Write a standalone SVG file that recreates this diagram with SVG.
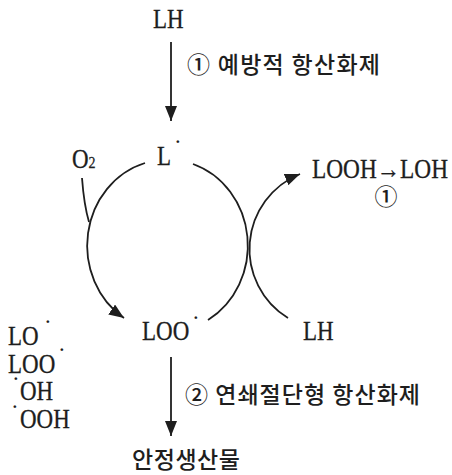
<svg xmlns="http://www.w3.org/2000/svg" width="452" height="475" viewBox="0 0 452 475">
<defs>
<style>
.lat{font-family:"Liberation Serif","Times New Roman",serif;font-size:23px;fill:#1e1e1e;stroke:#1e1e1e;stroke-width:0.25}
.dot{font-family:"Liberation Serif","Times New Roman",serif;font-size:23px;fill:#1e1e1e}
.kr{font-family:"Noto Sans CJK KR","Noto Sans",sans-serif;font-size:23px;font-weight:500;fill:#1e1e1e}
.ln{fill:none;stroke:#1e1e1e;stroke-width:1.8}
</style>
<marker id="ah" markerWidth="16" markerHeight="12" refX="15" refY="6" orient="auto" markerUnits="userSpaceOnUse">
<path d="M0,0 L15,6 L0,12 z" fill="#1e1e1e"/>
</marker>
</defs>
<rect width="452" height="475" fill="#ffffff"/>

<g id="connectors">
<line class="ln" x1="171" y1="42" x2="171" y2="121" marker-end="url(#ah)"/>
<path class="ln" d="M145,163 A80,86 0 0 0 124,318" marker-end="url(#ah)"/>
<path class="ln" d="M193,164 A80,86 0 0 1 208,320"/>
<path class="ln" d="M82,178 Q84,205 89,222"/>
<path class="ln" d="M288,318 A81,81 0 0 1 300,174" marker-end="url(#ah)"/>
<line class="ln" x1="171" y1="357" x2="171" y2="436" marker-end="url(#ah)"/>
</g>

<g id="n-LH-top"><text class="lat" transform="translate(153,28) scale(1,1.15)">LH</text></g>
<g id="n-label1"><text class="kr" x="187" y="73" textLength="193" lengthAdjust="spacing">① 예방적 항산화제</text></g>
<g id="n-O2"><text class="lat" transform="translate(72,168) scale(1,1.15)">O<tspan font-size="14">2</tspan></text></g>
<g id="n-L">
<text class="lat" transform="translate(157,165) scale(1,1.15)">L</text>
<text class="dot" x="174" y="149">·</text>
</g>
<g id="n-LOOH"><text class="lat" transform="translate(312,178) scale(1,1.15)" textLength="136" lengthAdjust="spacingAndGlyphs">LOOH→LOH</text></g>
<g id="n-circ1"><text class="kr" x="386" y="205" text-anchor="middle" font-size="20">①</text></g>
<g id="n-LOO">
<text class="lat" transform="translate(142,340) scale(1,1.15)">LOO</text>
<text class="dot" x="192" y="325">·</text>
</g>
<g id="n-LH-bottom"><text class="lat" transform="translate(303,340) scale(1,1.15)">LH</text></g>
<g id="n-radicals">
<text class="lat" transform="translate(8,345) scale(1,1.15)">LO</text>
<text class="dot" x="44" y="329">·</text>
<text class="lat" transform="translate(8,373) scale(1,1.15)">LOO</text>
<text class="dot" x="58" y="357">·</text>
<text class="dot" x="12" y="386">·</text>
<text class="lat" transform="translate(20,400) scale(1,1.15)">OH</text>
<text class="dot" x="11" y="414">·</text>
<text class="lat" transform="translate(20,428) scale(1,1.15)">OOH</text>
</g>
<g id="n-label2"><text class="kr" x="185" y="403" textLength="235" lengthAdjust="spacing">② 연쇄절단형 항산화제</text></g>
<g id="n-product"><text class="kr" x="132" y="468" font-size="22" textLength="108" lengthAdjust="spacing">안정생산물</text></g>
</svg>
